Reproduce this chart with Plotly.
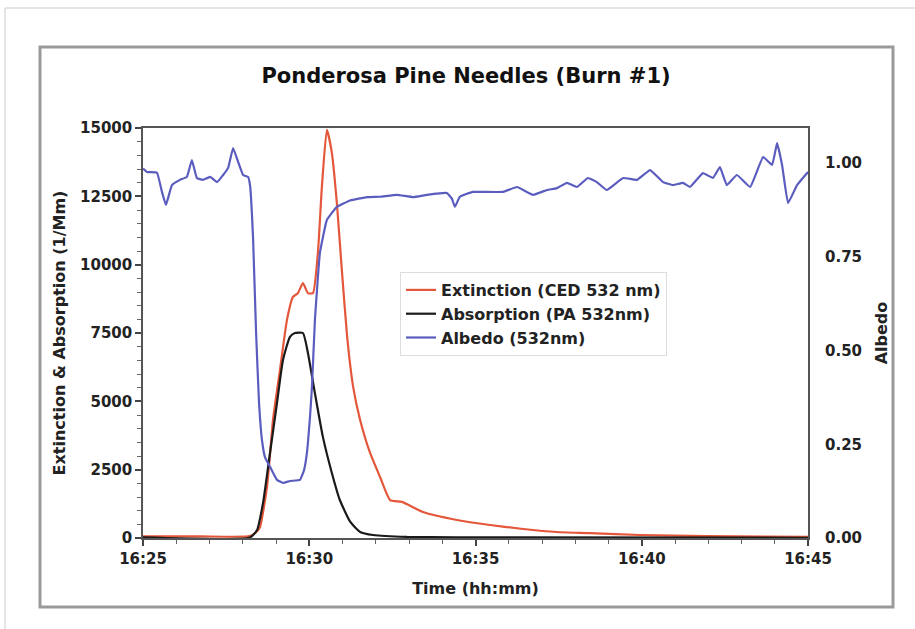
import pandas as pd
import plotly.graph_objects as go

# ---- data (minutes after 16:25) ----
ext_min = [0.0, 1.71, 3.22, 3.43, 3.52, 3.73, 3.91, 4.12, 4.33, 4.51, 4.66, 4.81, 4.96, 5.11,
           5.26, 5.38, 5.53, 5.68, 5.83, 5.98, 6.14, 6.32, 6.53, 6.83, 7.13, 7.43, 7.79, 8.42,
           9.44, 10.44, 11.43, 12.45, 13.44, 14.95, 16.96, 20.0]
ext_val = [60, 60, 70, 250, 400, 1870, 4320, 6150, 7980, 8820, 8960, 9330, 8960, 8960,
           10430, 12840, 14930, 14090, 12260, 9810, 7360, 5530, 4320, 3110, 2230, 1390, 1320, 950,
           660, 475, 330, 220, 180, 110, 70, 40]

abs_min = [0.0, 3.22, 3.43, 3.61, 3.82, 4.03, 4.21, 4.42, 4.57, 4.81, 4.96, 5.17, 5.41, 5.68,
           5.92, 6.23, 6.53, 6.92, 7.94, 10.74, 20.0]
abs_val = [20, 20, 290, 1280, 3110, 4940, 6510, 7360, 7500, 7500, 6770, 5300, 3700, 2380,
           1390, 600, 220, 110, 40, 20, 10]

alb_min = [0.0, 0.12, 0.42, 0.57, 0.69, 0.87, 1.11, 1.32, 1.47, 1.62, 1.80, 2.02, 2.23, 2.41,
           2.56, 2.71, 2.86, 3.01, 3.16, 3.22, 3.31, 3.40, 3.49, 3.58, 3.67, 3.82, 4.03, 4.21,
           4.42, 4.72, 4.84, 4.93, 5.02, 5.08, 5.17, 5.32, 5.53, 5.83, 6.23, 6.74, 7.13, 7.64,
           8.12, 8.54, 9.14, 9.29, 9.38, 9.53, 9.92, 10.23, 10.83, 11.25, 11.73, 12.15, 12.45,
           12.75, 13.05, 13.38, 13.65, 13.95, 14.44, 14.86, 15.25, 15.64, 15.94, 16.24, 16.45,
           16.84, 17.14, 17.35, 17.56, 17.86, 18.26, 18.65, 18.92, 19.07, 19.22, 19.40, 19.67, 20.0]
alb_val = [0.985, 0.976, 0.974, 0.923, 0.888, 0.941, 0.955, 0.963, 1.008, 0.960, 0.955, 0.963,
           0.949, 0.968, 0.987, 1.040, 1.003, 0.968, 0.963, 0.940, 0.800, 0.550, 0.360, 0.260,
           0.215, 0.190, 0.155, 0.147, 0.152, 0.155, 0.180, 0.227, 0.320, 0.400, 0.580, 0.760,
           0.848, 0.883, 0.900, 0.909, 0.910, 0.915, 0.909, 0.915, 0.920, 0.905, 0.883, 0.910,
           0.923, 0.923, 0.923, 0.936, 0.915, 0.928, 0.933, 0.947, 0.936, 0.960, 0.949, 0.928,
           0.960, 0.955, 0.981, 0.949, 0.941, 0.947, 0.936, 0.973, 0.960, 0.989, 0.941, 0.968,
           0.936, 1.016, 0.995, 1.053, 0.995, 0.893, 0.941, 0.976]

left_ticks = [0, 2500, 5000, 7500, 10000, 12500, 15000]
left_labels = ["0", "2500", "5000", "7500", "10000", "12500", "15000"]
right_ticks = [0.0, 0.25, 0.50, 0.75, 1.00]
right_labels = ["0.00", "0.25", "0.50", "0.75", "1.00"]

base = pd.Timestamp("2000-01-01 16:25:00")
def to_time(mins):
    return [base + pd.Timedelta(minutes=m) for m in mins]

FONT = "DejaVu Sans"
RED = "#E4573A"
BLACK = "#1a1a1a"
BLUE = "#5A5DBE"
TXT = "#222"
TF = dict(size=15, color=TXT)

fig = go.Figure()
fig.add_trace(go.Scatter(x=to_time(ext_min), y=ext_val, name="<b>Extinction (CED 532 nm)</b>",
                         mode="lines", line=dict(color=RED, width=2.2, shape="spline", smoothing=0.5)))
fig.add_trace(go.Scatter(x=to_time(abs_min), y=abs_val, name="<b>Absorption (PA 532nm)</b>",
                         mode="lines", line=dict(color=BLACK, width=2.2, shape="spline", smoothing=0.5)))
fig.add_trace(go.Scatter(x=to_time(alb_min), y=alb_val, name="<b>Albedo (532nm)</b>",
                         mode="lines", line=dict(color=BLUE, width=2.2, shape="spline", smoothing=0.3),
                         yaxis="y2"))

fig.update_layout(
    width=915, height=629,
    margin=dict(l=143, r=107, t=128, b=91),
    paper_bgcolor="white", plot_bgcolor="white",
    font=dict(family=FONT, size=15, color=TXT),
    title=dict(text="<b>Ponderosa Pine Needles (Burn #1)</b>", font=dict(size=21, color="#111"),
               x=466/915, xref="container", xanchor="center",
               y=1-76/629, yref="container", yanchor="middle"),
    showlegend=True,
    legend=dict(x=(400-143)/665, y=(538-272)/410, xanchor="left", yanchor="top",
                bgcolor="white", bordercolor="#dddddd", borderwidth=1,
                font=dict(size=16, color=TXT), tracegroupgap=0, itemwidth=30),
    xaxis=dict(type="date", anchor="y",
               range=[base, base + pd.Timedelta(minutes=20)],
               tickformat="<b>%H:%M</b>", dtick=300000, tick0=base,
               showgrid=False, zeroline=False,
               showline=True, linecolor="#555", linewidth=1.5, mirror=True,
               ticks="outside", ticklen=6, tickcolor="#444", tickwidth=1.5,
               minor=dict(dtick=60000, tick0=base, ticks="outside", ticklen=4, tickcolor="#666", tickwidth=1),
               tickfont=TF,
               title=dict(text="<b>Time (hh:mm)</b>", font=dict(size=16, color=TXT), standoff=16)),
    yaxis=dict(range=[0, 15000], anchor="x", tickmode="array", tickvals=left_ticks,
               ticktext=["<b>" + t + "</b>" for t in left_labels],
               showgrid=False, zeroline=False,
               showline=True, linecolor="#555", linewidth=1.5, mirror=True,
               ticks="outside", ticklen=6, tickcolor="#444", tickwidth=1.5,
               minor=dict(tickmode="array", tickvals=list(range(0, 15001, 500)),
                          ticks="outside", ticklen=4, tickcolor="#666", tickwidth=1),
               tickfont=TF,
               title=dict(text="<b>Extinction &amp; Absorption (1/Mm)</b>", font=dict(size=16, color=TXT), standoff=10)),
    yaxis2=dict(range=[0, 1.0933], anchor="x", tickmode="array", tickvals=right_ticks,
                ticktext=["<b>" + t + "</b>" for t in right_labels],
                overlaying="y", side="right",
                showgrid=False, zeroline=False, showline=False,
                ticks="", tickfont=TF, ticklabelstandoff=16,
                title=dict(text="<b>Albedo</b>", font=dict(size=16, color=TXT), standoff=14)),
    shapes=[
        dict(type="line", xref="paper", yref="paper", x0=(5-143)/665, x1=(915-143)/665,
             y0=(538-8)/410, y1=(538-8)/410, line=dict(color="#cccccc", width=1)),
        dict(type="line", xref="paper", yref="paper", x0=(5-143)/665, x1=(5-143)/665,
             y0=(538-8)/410, y1=(538-629)/410, line=dict(color="#cccccc", width=1)),
        dict(type="rect", xref="paper", yref="paper",
             x0=(40-143)/665, x1=(893-143)/665, y0=(538-607)/410, y1=(538-47)/410,
             line=dict(color="#9a9a9a", width=3), layer="below"),
    ],
)

fig.write_html("out.html")
